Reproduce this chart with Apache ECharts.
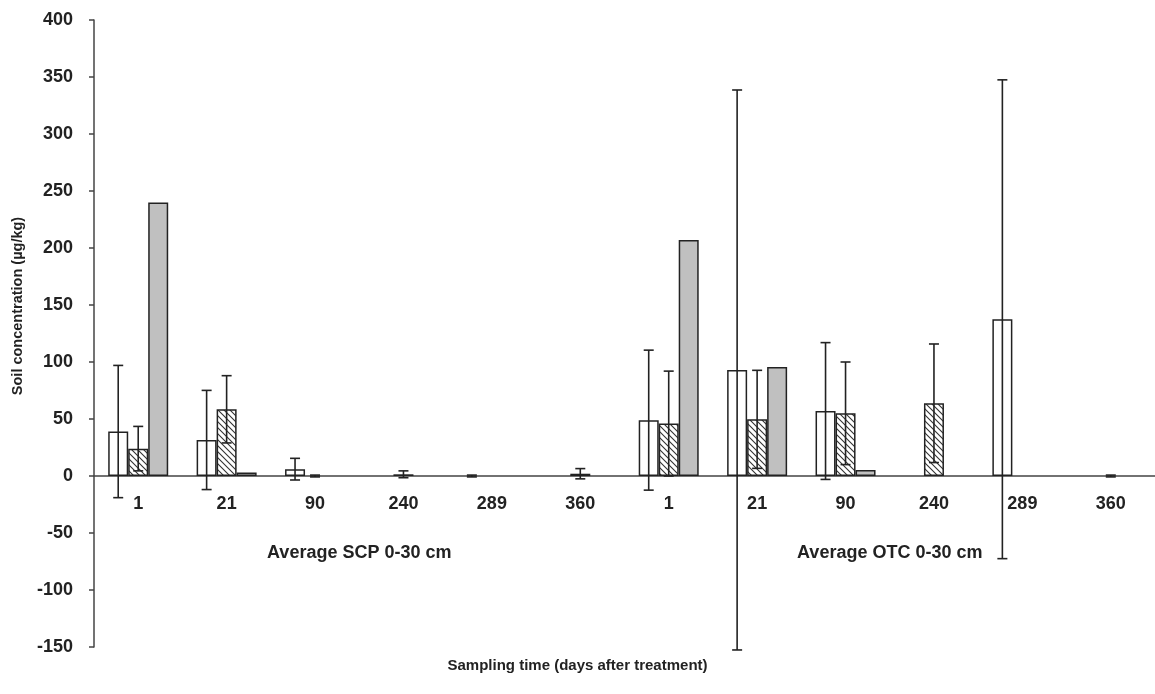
<!DOCTYPE html>
<html>
<head>
<meta charset="utf-8">
<script src="https://cdn.jsdelivr.net/npm/echarts@6/dist/echarts.min.js"></script>
<style>
  html, body { margin: 0; padding: 0; background: #fff; }
  #main { width: 1155px; height: 694px; }
</style>
</head>
<body>
<div id="main"></div>
<script>
// sampling days, two blocks (SCP then OTC)
var categories = ['1', '21', '90', '240', '289', '360', '1', '21', '90', '240', '289', '360'];
var groups = ['Average SCP 0-30 cm', 'Average OTC 0-30 cm'];

// means (µg/kg), '-' = no bar
var white   = [39, 31.6, 6, '-', '-', '-', 49, 93, 57, '-', 137.5, '-'];
var hatched = [24, 58.5, '-', 1.5, '-', 2, 46, 49.7, 55, 63.8, '-', '-'];
var gray    = [240, 3, '-', '-', '-', '-', 207, 95.6, 5.3, '-', '-', '-'];

// error bar half widths, null = none
var whiteErr   = [58, 43.5, 9.5, null, 0.8, null, 61.4, 245.6, 60, null, 210, null];
var hatchedErr = [19.5, 29.5, 0.8, 3, null, 4.5, 46, 43, 45, 52, null, 0.8];

var yTicks = { min: -150, max: 400, step: 50 };

var myChart = echarts.init(document.getElementById('main'));

// diagonal hatch pattern
function hatchPattern() {
    var c = document.createElement('canvas');
    c.width = 6;
    c.height = 6;
    var ctx = c.getContext('2d');
    ctx.fillStyle = '#fff';
    ctx.fillRect(0, 0, 6, 6);
    ctx.strokeStyle = '#333';
    ctx.lineWidth = 1.1;
    ctx.beginPath();
    ctx.moveTo(0, 0); ctx.lineTo(6, 6);
    ctx.moveTo(-1, 5); ctx.lineTo(1, 7);
    ctx.moveTo(5, -1); ctx.lineTo(7, 1);
    ctx.stroke();
    return c;
}

function errData(means, errs) {
    var out = [];
    for (var i = 0; i < errs.length; i++) {
        if (errs[i] == null) continue;
        var m = typeof means[i] === 'number' ? means[i] : 0;
        out.push([i, m - errs[i], m + errs[i]]);
    }
    return out;
}

var BAR_W = 20;

function errRender(offset) {
    return function (params, api) {
        var x = api.value(0);
        var lo = api.coord([x, api.value(1)]);
        var hi = api.coord([x, api.value(2)]);
        var cx = lo[0] + offset;
        var cap = 5;
        var st = { stroke: '#222', lineWidth: 1.6 };
        return {
            type: 'group',
            children: [
                { type: 'line', shape: { x1: cx, y1: hi[1], x2: cx, y2: lo[1] }, style: st },
                { type: 'line', shape: { x1: cx - cap, y1: hi[1], x2: cx + cap, y2: hi[1] }, style: st },
                { type: 'line', shape: { x1: cx - cap, y1: lo[1], x2: cx + cap, y2: lo[1] }, style: st }
            ]
        };
    };
}

var gridH = 627;
// move the category axes up from the grid bottom to the zero line
var zeroOffset = -gridH * (0 - yTicks.min) / (yTicks.max - yTicks.min);

var labelFont = { fontFamily: 'Liberation Sans, Arial, sans-serif', fontWeight: 'bold', fontSize: 18, color: '#222' };

var option = {
    animation: false,
    grid: { left: 94, top: 20, width: 1068, height: gridH },
    xAxis: [{
        type: 'category',
        data: categories,
        position: 'bottom',
        offset: zeroOffset,
        axisLine: { onZero: false, lineStyle: { color: '#444', width: 1.5 } },
        axisTick: { length: 5, lineStyle: { color: '#444', width: 1.5 } },
        axisLabel: Object.assign({ margin: 19 }, labelFont),
        splitLine: { show: false }
    }, {
        type: 'category',
        data: groups,
        position: 'bottom',
        offset: zeroOffset,
        axisLine: { show: false, onZero: false },
        axisTick: { show: false },
        axisLabel: Object.assign({ margin: 68 }, labelFont),
        splitLine: { show: false }
    }],
    yAxis: {
        type: 'value',
        min: yTicks.min,
        max: yTicks.max,
        interval: yTicks.step,
        axisLine: { show: true, lineStyle: { color: '#444', width: 1.5 } },
        axisTick: { show: true, length: 5, lineStyle: { color: '#444', width: 1.5 } },
        axisLabel: Object.assign({ margin: 21 }, labelFont),
        splitLine: { show: false }
    },
    graphic: [{
        type: 'text',
        x: 18,
        y: 306,
        rotation: Math.PI / 2,
        style: {
            text: 'Soil concentration (µg/kg)',
            font: 'bold 14.5px "Liberation Sans", Arial, sans-serif',
            fill: '#222',
            align: 'center',
            verticalAlign: 'middle'
        }
    }, {
        type: 'text',
        left: 'center',
        top: 658,
        style: {
            text: 'Sampling time (days after treatment)',
            font: 'bold 15px "Liberation Sans", Arial, sans-serif',
            fill: '#222'
        }
    }],
    series: [{
        type: 'bar',
        data: white,
        barWidth: BAR_W,
        barGap: '0%',
        itemStyle: { color: '#fff', borderColor: '#222', borderWidth: 1.5 }
    }, {
        type: 'bar',
        data: hatched,
        barWidth: BAR_W,
        barGap: '0%',
        itemStyle: { color: { image: hatchPattern(), repeat: 'repeat' }, borderColor: '#222', borderWidth: 1.5 }
    }, {
        type: 'bar',
        data: gray,
        barWidth: BAR_W,
        barGap: '0%',
        itemStyle: { color: '#c0c0c0', borderColor: '#222', borderWidth: 1.5 }
    }, {
        type: 'custom',
        renderItem: errRender(-BAR_W),
        data: errData(white, whiteErr),
        z: 5
    }, {
        type: 'custom',
        renderItem: errRender(0),
        data: errData(hatched, hatchedErr),
        z: 5
    }]
};

myChart.setOption(option);
</script>
</body>
</html>
